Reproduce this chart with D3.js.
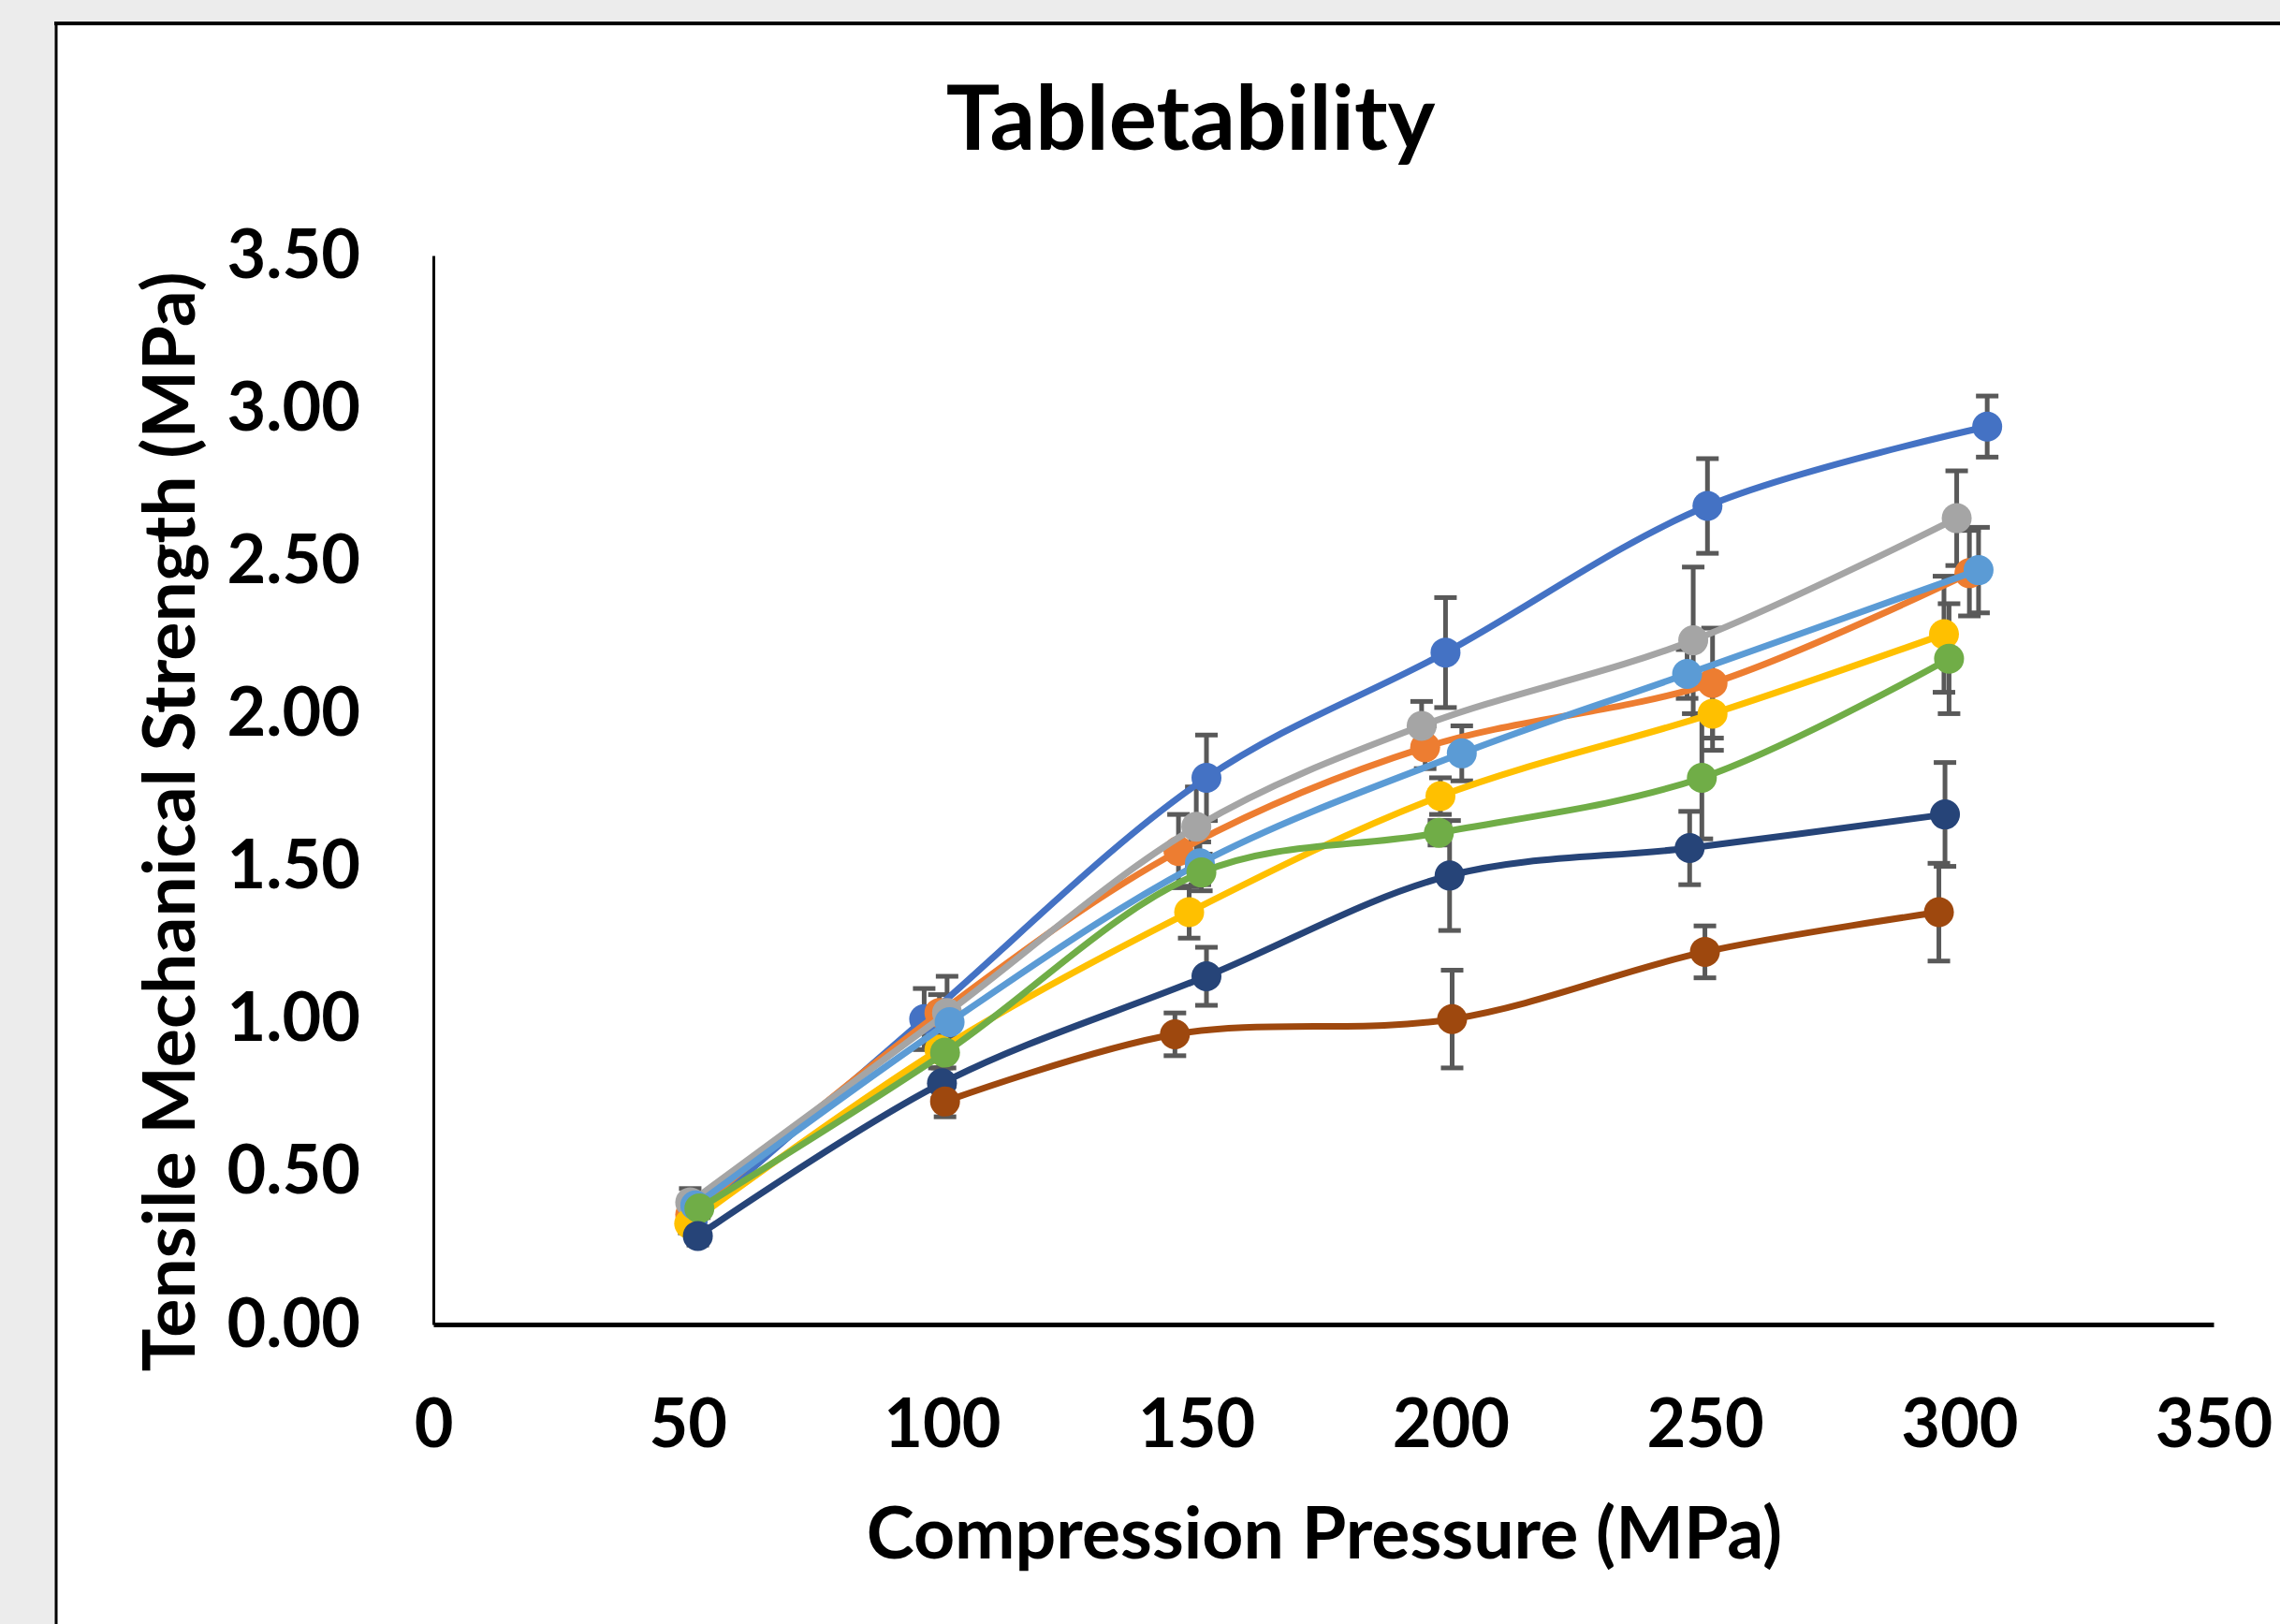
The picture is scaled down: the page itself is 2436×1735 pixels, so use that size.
<!DOCTYPE html>
<meta charset="utf-8">
<title>Tabletability</title>
<style>
body {
  margin: 0;
  background: #ececec;
}

svg text {
  font-family: Lato, "Open Sans", sans-serif;
  font-weight: bold;
  fill: #000;
}

.line {
  fill: none;
  stroke-width: 7px;
}

.err {
  stroke: #595959;
  stroke-width: 5px;
}
</style>

<body>
<div id="vis"></div>

<script src="https://cdn.jsdelivr.net/npm/d3@7"></script>
<script>

// tick labels
var xTicks = [0, 50, 100, 150, 200, 250, 300, 350];
var yTicks = [0, 0.5, 1, 1.5, 2, 2.5, 3, 3.5];

// eight formulations, excel default colours
var seriesNames = ["F1", "F2", "F3", "F4", "F5", "F6", "F7", "F8"];
var seriesColors = ["#4472C4", "#ED7D31", "#A5A5A5", "#FFC000", "#5B9BD5", "#70AD47", "#264478", "#9E480E"];

// compression pressure (MPa) of each point, per series
var pressureF1 = [51, 96.5, 152, 199, 250.5, 305.5];
var pressureF2 = [50.5, 99.5, 146.5, 195, 251.5, 302];
var pressureF3 = [50.5, 101, 150, 194.3, 247.7, 299.5];
var pressureF4 = [50.3, 99.5, 148.6, 198, 251.5, 297];
var pressureF5 = [51.5, 101.5, 150.7, 202.2, 246.5, 303.8];
var pressureF6 = [52.3, 100.6, 151, 197.7, 249.4, 298];
var pressureF7 = [52, 100, 152, 199.8, 247, 297.2];
var pressureF8 = [100.6, 145.8, 200.3, 250, 296];

// tensile strength (MPa)
var strengthF1 = [0.34, 1.00, 1.79, 2.20, 2.68, 2.94];
var strengthF2 = [0.36, 1.02, 1.55, 1.89, 2.10, 2.46];
var strengthF3 = [0.40, 1.02, 1.63, 1.96, 2.24, 2.64];
var strengthF4 = [0.33, 0.90, 1.35, 1.73, 2.00, 2.26];
var strengthF5 = [0.39, 0.99, 1.51, 1.87, 2.13, 2.47];
var strengthF6 = [0.38, 0.89, 1.48, 1.61, 1.79, 2.18];
var strengthF7 = [0.29, 0.79, 1.14, 1.47, 1.56, 1.67];
var strengthF8 = [0.73, 0.95, 1.00, 1.22, 1.35];

// standard deviation
var sdF1 = [0.04, 0.10, 0.14, 0.18, 0.155, 0.10];
var sdF2 = [0.04, 0.06, 0.12, 0.07, 0.18, 0.14];
var sdF3 = [0.045, 0.12, 0.13, 0.08, 0.24, 0.155];
var sdF4 = [0.03, 0.06, 0.085, 0.06, 0.12, 0.19];
var sdF5 = [0.04, 0.06, 0.07, 0.09, 0.08, 0.14];
var sdF6 = [0.03, 0.05, 0.06, 0.04, 0.20, 0.18];
var sdF7 = [0.03, 0.05, 0.095, 0.18, 0.12, 0.17];
var sdF8 = [0.05, 0.07, 0.16, 0.085, 0.16];

var pressures = [pressureF1, pressureF2, pressureF3, pressureF4, pressureF5, pressureF6, pressureF7, pressureF8];
var strengths = [strengthF1, strengthF2, strengthF3, strengthF4, strengthF5, strengthF6, strengthF7, strengthF8];
var sds = [sdF1, sdF2, sdF3, sdF4, sdF5, sdF6, sdF7, sdF8];

var series = seriesNames.map(function(name, i) {
  return {
    name: name,
    color: seriesColors[i],
    values: strengths[i].map(function(v, j) {
      return {x: pressures[i][j], y: v, sd: sds[i][j]};
    })
  };
});

var width = 2436,
    height = 1735;

var x = d3.scaleLinear()
    .domain([0, 350])
    .range([463, 2365]);

var y = d3.scaleLinear()
    .domain([0, 3.5])
    .range([1415, 273]);

var line = d3.line()
    .curve(d3.curveCatmullRom)
    .x(function(d) { return x(d.x); })
    .y(function(d) { return y(d.y); });

var svg = d3.select("#vis").append("svg")
    .attr("width", width)
    .attr("height", height)
    .style("display", "block");

// chart panel
svg.append("rect")
    .attr("x", 60)
    .attr("y", 25)
    .attr("width", width)
    .attr("height", height)
    .attr("fill", "#fff");
svg.append("line")
    .attr("x1", 58).attr("x2", width)
    .attr("y1", 25).attr("y2", 25)
    .attr("stroke", "#000").attr("stroke-width", 4);
svg.append("line")
    .attr("x1", 60).attr("x2", 60)
    .attr("y1", 23).attr("y2", height)
    .attr("stroke", "#000").attr("stroke-width", 3);

svg.append("text")
    .attr("x", 1272)
    .attr("y", 160)
    .attr("text-anchor", "middle")
    .style("font-size", "96px")
    .text("Tabletability");

// axes
var yAxis = svg.append("g")
    .attr("transform", "translate(" + x(0) + ",0)")
    .call(d3.axisLeft(y)
      .tickValues(yTicks)
      .tickSize(0)
      .tickPadding(78)
      .tickFormat(d3.format(".2f")));

var xAxis = svg.append("g")
    .attr("transform", "translate(0," + y(0) + ")")
    .call(d3.axisBottom(x)
      .tickValues(xTicks)
      .tickSize(0)
      .tickPadding(80));

yAxis.selectAll("text").style("font-size", "72px").attr("font-family", null);
xAxis.selectAll("text").style("font-size", "72px").attr("font-family", null);
yAxis.select(".domain").attr("stroke", "#000").attr("stroke-width", 3);
xAxis.select(".domain").attr("stroke", "#000").attr("stroke-width", 5);

svg.append("text")
    .attr("x", 1415)
    .attr("y", 1665)
    .attr("text-anchor", "middle")
    .style("font-size", "77px")
    .text("Compression Pressure (MPa)");

svg.append("text")
    .attr("transform", "translate(208,878) rotate(-90)")
    .attr("text-anchor", "middle")
    .style("font-size", "77px")
    .text("Tensile Mechanical Strength (MPa)");

// error bars
var errG = svg.append("g");
series.forEach(function(s) {
  var g = errG.selectAll(null)
      .data(s.values)
    .enter().append("g")
      .attr("class", "err");
  g.append("line")
      .attr("x1", function(d) { return x(d.x); })
      .attr("x2", function(d) { return x(d.x); })
      .attr("y1", function(d) { return y(d.y + d.sd); })
      .attr("y2", function(d) { return y(d.y - d.sd); });
  [1, -1].forEach(function(k) {
    g.append("line")
        .attr("x1", function(d) { return x(d.x) - 12; })
        .attr("x2", function(d) { return x(d.x) + 12; })
        .attr("y1", function(d) { return y(d.y + k * d.sd); })
        .attr("y2", function(d) { return y(d.y + k * d.sd); });
  });
});

// lines and markers
var sg = svg.selectAll(".series")
    .data(series)
  .enter().append("g")
    .attr("class", "series");

sg.append("path")
    .attr("class", "line")
    .attr("stroke", function(d) { return d.color; })
    .attr("d", function(d) { return line(d.values); });

sg.selectAll("circle")
    .data(function(d) { return d.values.map(function(v) { return {v: v, color: d.color}; }); })
  .enter().append("circle")
    .attr("cx", function(d) { return x(d.v.x); })
    .attr("cy", function(d) { return y(d.v.y); })
    .attr("r", 16)
    .attr("fill", function(d) { return d.color; });

</script>
</body>
